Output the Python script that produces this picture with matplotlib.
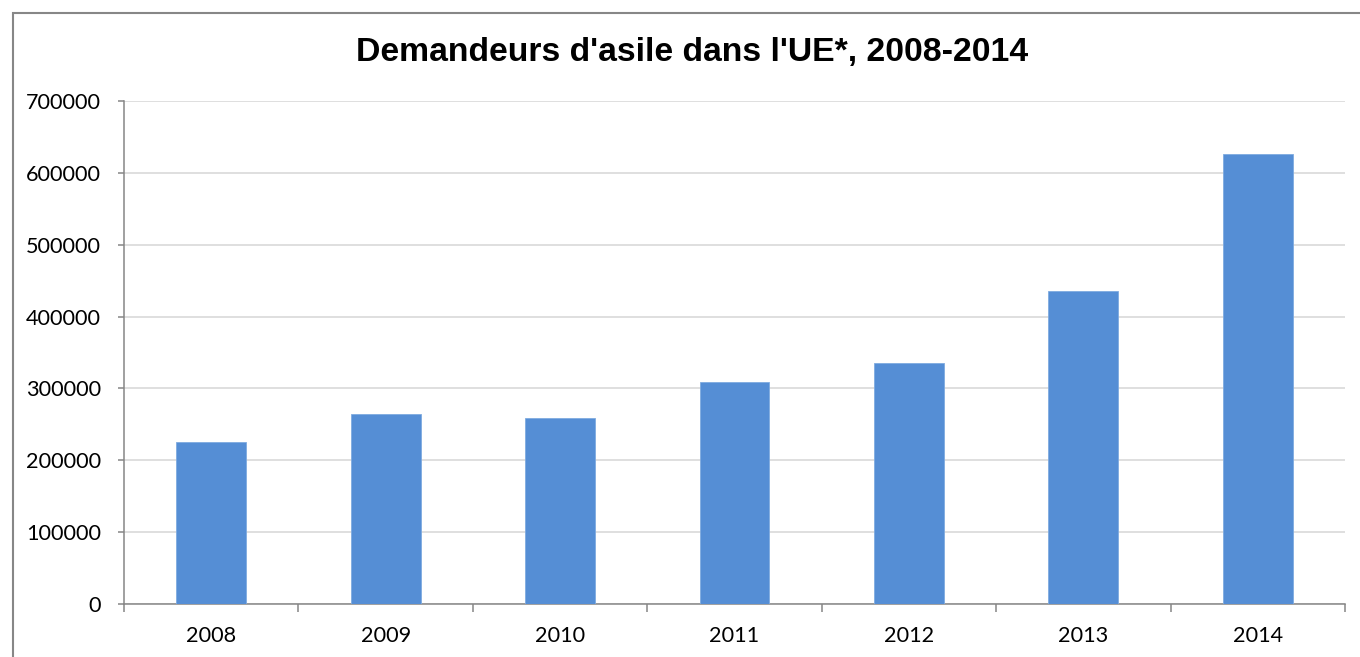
import numpy as np
import matplotlib
matplotlib.use("Agg")
import matplotlib.pyplot as plt
from matplotlib.patches import Rectangle

years = ["2008", "2009", "2010", "2011", "2012", "2013", "2014"]
demandeurs = [225000, 263800, 259000, 309000, 335300, 435000, 626000]
yticks = [0, 100000, 200000, 300000, 400000, 500000, 600000, 700000]

W, H = 1360, 657
fig = plt.figure(figsize=(W / 100, H / 100), dpi=100)
ax = fig.add_axes([124 / W, 1 - 604 / H, (1345 - 124) / W, (604 - 101) / H])

# chart frame (cut off at right and bottom in the reference)
fig.patches.append(Rectangle((13 / W, -0.1), 1.2, 1 - 13 / H + 0.1, transform=fig.transFigure,
                             fill=False, edgecolor="#878787", linewidth=1.5))

x = np.arange(len(years))
ax.bar(x, demandeurs, width=0.4, color="#558ed5", edgecolor="#7fabe0", linewidth=0.6, zorder=3)

ax.set_xlim(-0.5, len(years) - 0.5)
ax.set_ylim(0, 700000)
ax.set_yticks(yticks)
ax.set_yticklabels([str(v) for v in yticks])
ax.set_xticks(x)
ax.set_xticklabels(years)
ax.set_xticks(np.arange(len(years) + 1) - 0.5, minor=True)

ax.grid(axis="y", color="#d9d9d9", linewidth=1.2, zorder=0)
for s in ["top", "right"]:
    ax.spines[s].set_visible(False)
for s in ["left", "bottom"]:
    ax.spines[s].set_color("#868686")
    ax.spines[s].set_linewidth(1.1)

ax.tick_params(axis="y", length=4.5, width=1.1, color="#868686", pad=12, labelsize=15.6)
ax.tick_params(axis="x", which="major", length=0, pad=16, labelsize=15.6)
ax.tick_params(axis="x", which="minor", length=6, width=1.1, color="#868686")
for lab in ax.get_xticklabels() + ax.get_yticklabels():
    lab.set_fontfamily("Lato")

fig.text(692 / W, 1 - 52 / H, "Demandeurs d'asile dans l'UE*, 2008-2014", ha="center", va="center",
         fontsize=24.3, fontweight="bold", family="Liberation Sans")

fig.savefig("out.png", dpi=100)
